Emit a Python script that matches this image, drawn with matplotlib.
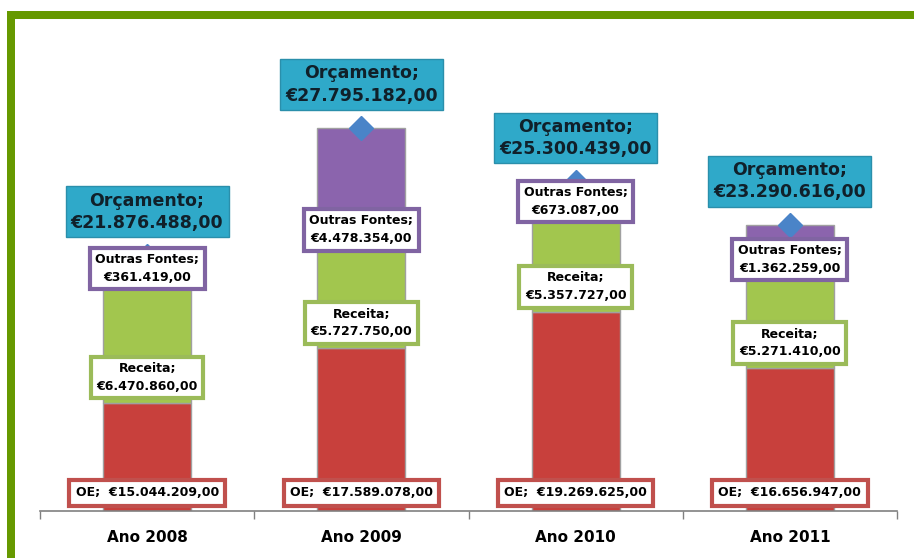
"""
Orçamento por ano: OE, Receita e Outras Fontes empilhados.
"""
import matplotlib.pyplot as plt
from matplotlib.patches import Rectangle

categories = ['Ano 2008', 'Ano 2009', 'Ano 2010', 'Ano 2011']
oe = [15044209, 17589078, 19269625, 16656947]
receita = [6470860, 5727750, 5357727, 5271410]
outras = [361419, 4478354, 673087, 1362259]
orcamento = [21876488, 27795182, 25300439, 23290616]


def euro(v):
    return '€' + f'{v:,}'.replace(',', '.') + ',00'


fig = plt.figure(figsize=(9.14, 5.58), dpi=100)
ax = fig.add_axes([40 / 914, 47 / 558, 857 / 914, 430 / 558])

x = range(len(categories))
w = 0.41
base = [a + b for a, b in zip(oe, receita)]
ax.bar(x, oe, w, color='#c8403c', edgecolor='#a0a0a0', linewidth=1, zorder=2)
ax.bar(x, receita, w, bottom=oe, color='#a2c64e', edgecolor='#a0a0a0',
       linewidth=1, zorder=2)
ax.bar(x, outras, w, bottom=base, color='#8b64ad', edgecolor='#a0a0a0',
       linewidth=1, zorder=2)
ax.plot(x, orcamento, 'D', color='#4a84c8', markersize=12, zorder=3)

ax.set_xlim(-0.5, 3.5)
ax.set_ylim(10e6, 30e6)
ax.set_yticks([])
ax.set_xticks([i + 0.5 for i in range(-1, 4)], minor=True)
ax.set_xticks(list(x))
ax.set_xticklabels(categories, fontsize=11, fontweight='bold')
ax.tick_params(axis='x', which='major', length=0, pad=14)
ax.tick_params(axis='x', which='minor', length=6, color='#808080', width=1)
for s in ['top', 'right', 'left']:
    ax.spines[s].set_visible(False)
ax.spines['bottom'].set_color('#808080')
ax.spines['bottom'].set_linewidth(1.2)

px = 0.72  # points per pixel at 100 dpi
small = dict(fontsize=9, fontweight='bold', ha='center', va='center',
             textcoords='offset points', zorder=5, linespacing=1.45)

for i in x:
    ax.annotate('OE;  ' + euro(oe[i]), (i, 10e6), xytext=(0, 18 * px),
                bbox=dict(boxstyle='square,pad=0.5', fc='white',
                          ec='#c0504d', lw=3), **small)
    ax.annotate('Receita;\n' + euro(receita[i]), (i, oe[i]),
                xytext=(0, 25 * px),
                bbox=dict(boxstyle='square,pad=0.45', fc='white',
                          ec='#9bbb59', lw=3), **small)
    ax.annotate('Outras Fontes;\n' + euro(outras[i]), (i, base[i]),
                xytext=(0, -5 * px),
                bbox=dict(boxstyle='square,pad=0.45', fc='white',
                          ec='#8064a2', lw=3), **small)
    ax.annotate('Orçamento;\n' + euro(orcamento[i]), (i, orcamento[i]),
                xytext=(0, 44 * px), fontsize=12.5, fontweight='bold',
                ha='center', va='center', textcoords='offset points',
                color='#10202a', zorder=5, linespacing=1.3,
                bbox=dict(boxstyle='square,pad=0.3', fc='#2fa9c9',
                          ec='#2a8fab', lw=1))

# green frame
fig.patches.append(Rectangle((11 / 914, -0.2), 1.2, (558 - 15) / 558 + 0.2,
                             transform=fig.transFigure, fill=False,
                             ec='#669900', lw=8 * px, zorder=0))

fig.savefig('out.png', dpi=100)
